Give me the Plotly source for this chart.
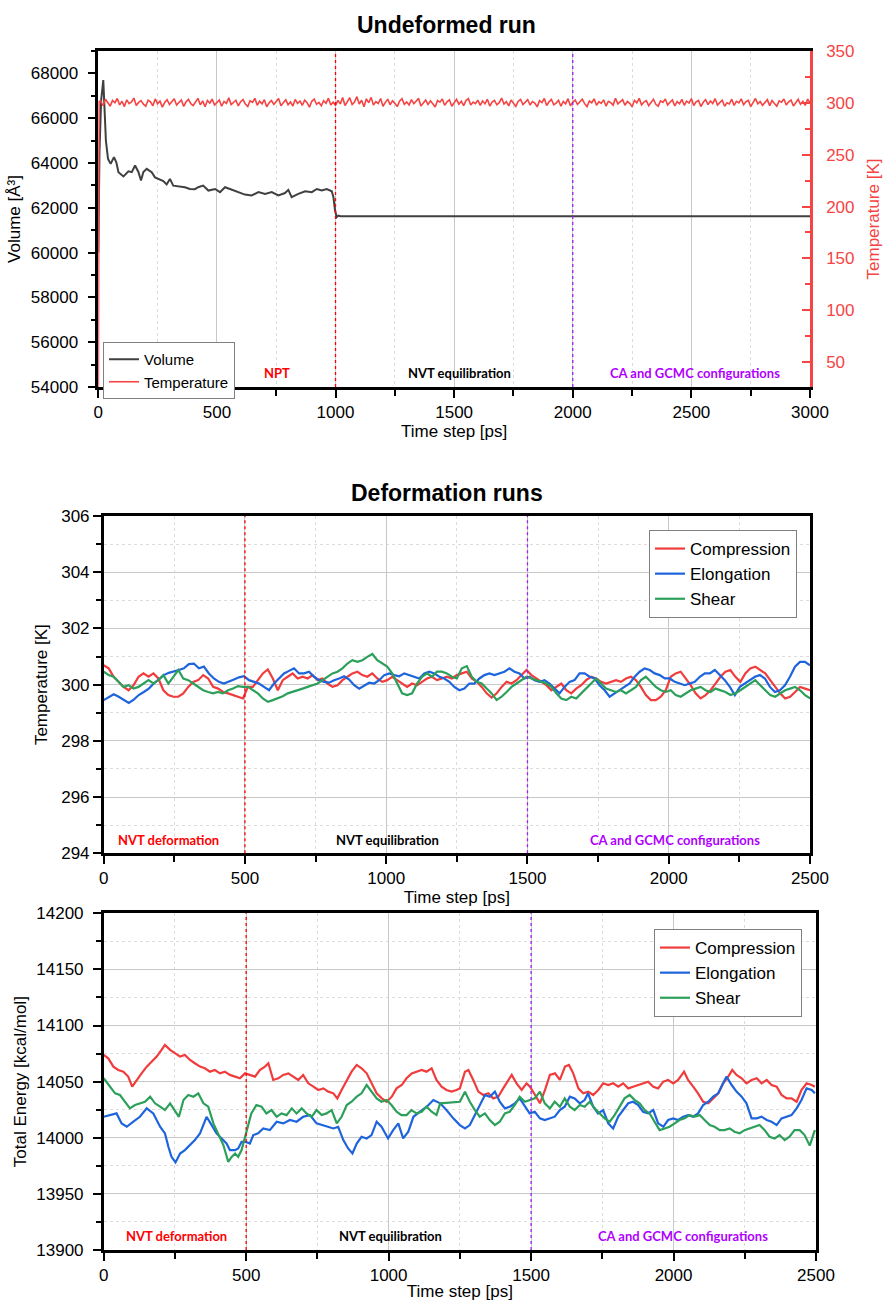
import numpy as np
import plotly.graph_objects as go

# ---------------- Undeformed run (0-3000 ps) ----------------
VOL_TIME = [0, 5, 12, 21, 28, 32, 41, 52, 66, 76, 85, 106, 127, 141, 155, 169, 180, 190, 204, 225,
            239, 253, 274, 288, 302, 316, 337, 365, 386, 407, 421, 442, 464, 492, 513, 534, 555, 590,
            618, 646, 675, 703, 731, 759, 787, 801, 815, 843, 872, 900, 921, 942, 963, 984, 991, 998,
            1005, 1012, 1020, 1500, 2000, 2500, 3000]
VOLUME = [60000, 64500, 66800, 67700, 66000, 65000, 64180, 63960, 64260, 64030, 63590, 63400, 63630,
          63590, 63890, 63600, 63220, 63600, 63740, 63590, 63360, 63290, 63190, 63040, 63290, 62990,
          62950, 62920, 62840, 62830, 62920, 62990, 62770, 62840, 62700, 62920, 62840, 62700, 62590,
          62550, 62700, 62620, 62700, 62550, 62660, 62800, 62480, 62620, 62740, 62700, 62840, 62770,
          62840, 62740, 62480, 61880, 61580, 61650, 61620, 61620, 61620, 61620, 61620]

TEMP_TIME = [0, 3] + list(range(10, 3001, 10))
TEMP_K = [0.0, 301.2,
          301.8, 297.2, 303.5, 299.6, 296.9, 302.4, 300.1, 304.2, 298.0, 301.5, 296.4, 302.9, 299.3, 300.8, 304.6, 297.5, 300.4, 302.1, 298.7, 296.8,
          302.6, 300.9, 297.1, 303.8, 299.0, 301.7, 295.9, 300.3, 303.1, 298.4, 301.2, 304.0, 297.8, 299.9, 302.7, 296.6, 301.0, 303.4, 299.2, 297.4,
          300.6, 304.3, 298.1, 301.9, 296.3, 302.2, 299.7, 303.6, 297.9, 300.2, 302.8, 296.7, 301.4, 299.5, 304.8, 298.3, 300.7, 302.5, 297.0, 301.1,
          303.2, 298.8, 296.5, 302.0, 300.5, 304.4, 297.6, 301.6, 299.1, 303.0, 296.2, 300.0, 302.3, 298.5, 301.3, 304.1, 297.3, 299.8, 302.9, 298.2,
          300.9, 296.9, 303.3, 299.4, 301.8, 297.7, 302.6, 300.2, 295.8, 301.5, 303.7, 298.6, 300.4, 297.2, 302.1, 299.6, 304.5, 298.0, 300.8, 297.5,
          302.4, 299.0, 305.2, 297.4, 301.6, 304.9, 298.3, 300.7, 306.0, 298.9, 302.5, 296.3, 303.9, 300.1, 305.3, 297.8, 301.2, 299.4, 304.2, 296.7,
          300.5, 303.6, 298.2, 302.0, 299.5, 296.4, 301.7, 304.0, 298.6, 300.9, 297.9, 303.1, 299.2, 301.4, 304.3, 297.0, 300.3, 302.7, 298.4, 301.9,
          299.1, 296.0, 302.3, 300.6, 303.8, 297.6, 301.0, 302.9, 296.8, 300.4, 303.4, 298.7, 301.5, 297.3, 302.2, 304.1, 298.0, 300.8, 299.3, 302.6,
          297.5, 301.9, 299.0, 303.5, 296.9, 300.7, 302.4, 298.1, 300.2, 304.6, 298.8, 301.3, 297.1, 302.8, 300.0, 296.6, 301.6, 303.2, 298.4, 300.9,
          303.0, 297.9, 301.2, 299.7, 296.1, 302.1, 300.3, 304.2, 297.4, 301.0, 303.3, 298.2, 299.8, 302.5, 296.7, 301.4, 299.0, 304.0, 297.2, 300.6,
          302.7, 298.5, 300.9, 303.6, 299.2, 296.4, 301.8, 300.1, 303.9, 297.6, 301.1, 299.4, 302.9, 296.9, 301.5, 300.2, 297.8, 304.4, 299.0, 300.7,
          303.1, 297.7, 301.3, 299.5, 296.2, 302.4, 300.0, 304.3, 298.1, 300.8, 302.2, 297.3, 301.0, 303.5, 298.6, 296.8, 301.9, 300.4, 303.7, 297.9,
          300.6, 302.8, 297.0, 301.2, 299.1, 303.4, 297.7, 301.6, 299.8, 304.1, 297.4, 300.9, 302.3, 296.5, 300.5, 303.0, 298.3, 301.8, 299.3, 304.0,
          297.8, 300.7, 302.6, 296.7, 300.1, 298.9, 303.5, 297.5, 301.4, 300.0, 303.8, 298.2, 301.1, 302.4, 296.4, 300.3, 304.2, 299.0, 301.3, 297.6,
          300.8, 303.1, 297.3, 302.2, 299.4, 296.8, 301.9, 300.6, 303.7, 297.9, 301.0, 302.7, 296.9, 300.4, 303.4, 298.7, 301.5, 297.5, 303.6, 300.2]

# ---------------- Deformation runs: temperature (0-2500 ps, evenly sampled) ----------------
DEF_T_COMPRESSION = [
    300.69, 300.58, 300.28, 300.10, 299.92, 299.80, 299.98, 300.28, 300.40, 300.28,
    300.40, 300.22, 299.80, 299.63, 299.57, 299.57, 299.69, 299.92, 300.10, 300.16,
    300.34, 300.22, 299.92, 299.86, 299.74, 299.69, 299.63, 299.57, 299.51, 299.92,
    299.92, 300.16, 300.40, 300.54, 300.22, 299.80, 300.16, 300.28, 300.40, 300.22,
    300.28, 300.22, 300.34, 300.16, 300.22, 300.04, 299.92, 299.98, 300.16, 300.28,
    300.40, 300.46, 300.34, 300.28, 300.40, 300.22, 300.10, 300.16, 300.28, 300.16,
    300.04, 299.92, 300.04, 299.98, 300.10, 300.22, 300.28, 300.16, 300.22, 300.28,
    300.22, 300.34, 300.40,
    300.46, 300.22, 300.10, 299.92, 299.69, 299.54, 299.69, 299.92, 300.10, 300.04,
    300.16, 300.34, 300.52, 300.34, 300.22, 300.10, 299.98, 299.80, 299.92, 300.04,
    299.80, 299.69, 299.86, 299.98, 300.16, 300.28, 300.22, 300.10, 300.04, 300.10,
    300.16, 300.10, 300.22, 300.28, 300.16, 299.92, 299.63, 299.45, 299.45, 299.57,
    299.80, 300.28, 300.40, 300.46, 300.22, 299.98, 299.69, 299.51, 299.63, 299.80,
    300.04, 300.28, 300.46, 300.52, 300.28, 300.10, 300.40, 300.58, 300.64, 300.52,
    300.40, 300.16, 299.92, 299.69, 299.51, 299.57, 299.74, 299.92, 299.86, 299.80]
DEF_T_ELONGATION = [
    299.45, 299.57, 299.66, 299.57, 299.45, 299.35, 299.47, 299.63, 299.74, 299.86,
    300.04, 300.18, 300.34, 300.42, 300.46, 300.52, 300.58, 300.73, 300.75, 300.58,
    300.64, 300.40, 300.22, 300.10, 300.04, 300.10, 300.18, 300.26, 300.30, 300.16,
    300.10, 300.04, 299.92, 299.80, 300.04, 300.22, 300.40, 300.49, 300.58, 300.40,
    300.40, 300.46, 300.28, 300.16, 300.10, 300.07, 300.16, 300.22, 300.30, 300.18,
    299.98, 299.86, 299.98, 300.07, 300.04, 300.16, 300.34, 300.40, 300.34, 300.30,
    300.40, 300.34, 300.30, 300.22, 300.40, 300.46, 300.40, 300.28, 300.22, 300.10,
    299.92, 299.80,
    299.86, 300.04, 300.04, 300.22, 300.34, 300.40, 300.34, 300.40, 300.46, 300.58,
    300.46, 300.40, 300.22, 300.28, 300.16, 300.10, 300.16, 300.04, 299.86, 299.69,
    299.92, 300.10, 300.16, 300.40, 300.40, 300.28, 300.22, 299.98, 299.80, 299.57,
    299.69, 299.80, 299.92, 300.04, 300.28, 300.46, 300.58, 300.52, 300.40, 300.34,
    300.22, 300.22, 300.10, 300.04, 299.98, 300.04, 300.10, 300.28, 300.40, 300.40,
    300.52, 300.34, 300.16, 299.92, 299.63, 299.92, 300.04, 300.16, 300.28, 300.34,
    300.22, 299.92, 299.74, 299.80, 299.98, 300.28, 300.64, 300.81, 300.81, 300.69]
DEF_T_SHEAR = [
    300.46, 300.34, 300.28, 300.10, 299.92, 299.98, 299.86, 299.92, 300.04, 300.16,
    300.04, 300.16, 300.34, 300.04, 300.28, 300.52, 300.22, 300.16, 300.04, 299.92,
    299.80, 299.74, 299.69, 299.74, 299.69, 299.80, 299.86, 299.95, 299.92, 299.92,
    299.80, 299.69, 299.51, 299.39, 299.45, 299.51, 299.59, 299.69, 299.74, 299.80,
    299.86, 299.92, 299.98, 300.04, 300.16, 300.28, 300.40, 300.46, 300.58, 300.75,
    300.87, 300.81, 300.87, 300.99, 301.09, 300.87, 300.75, 300.64, 300.40, 300.04,
    299.69, 299.63, 299.69, 300.04, 300.28, 300.40, 300.28, 300.46, 300.46, 300.40,
    300.28, 300.22,
    300.58, 300.66, 300.28, 300.10, 300.04, 299.86, 299.69, 299.45, 299.57, 299.74,
    299.92, 300.04, 300.16, 300.28, 300.22, 300.16, 300.10, 300.04, 299.92, 299.69,
    299.51, 299.45, 299.57, 299.51, 299.69, 299.86, 300.04, 300.22, 300.04, 299.86,
    299.80, 299.74, 299.80, 299.69, 299.80, 299.92, 300.16, 300.28, 300.10, 299.92,
    299.80, 299.74, 299.80, 299.63, 299.57, 299.69, 299.80, 299.86, 299.92, 299.80,
    299.74, 299.86, 299.80, 299.74, 299.63, 299.69, 299.80, 299.92, 300.04, 300.16,
    299.98, 299.80, 299.63, 299.57, 299.69, 299.80, 299.86, 299.92, 299.80, 299.63, 299.51]

# ---------------- Deformation runs: total energy ----------------
E_COMP_TIME = [0, 16, 34, 51, 69, 86, 100, 116, 133, 151, 168, 186, 203, 215, 233, 250, 268, 285, 303, 320,
               338, 355, 373, 390, 408, 425, 443, 461, 478, 496, 513, 531, 548, 566, 578, 595, 613, 630, 648, 665,
               683, 700, 718, 736, 753, 771, 788, 806, 820, 835, 853, 870, 888, 905, 923, 940, 958, 976, 993, 1011,
               1028, 1046, 1063, 1081, 1098, 1116, 1133, 1151, 1168, 1186, 1203, 1221, 1238,
               1250, 1268, 1280, 1297, 1315, 1332, 1350, 1367, 1385, 1402, 1420, 1432, 1449, 1467, 1484, 1496,
               1514, 1531, 1549, 1566, 1584, 1601, 1619, 1633, 1648, 1666, 1683, 1701, 1718, 1736, 1753, 1771,
               1788, 1806, 1823, 1841, 1858, 1876, 1893, 1911, 1929, 1946, 1964, 1981, 1999, 2016, 2037, 2051,
               2069, 2086, 2104, 2122, 2139, 2157, 2174, 2192, 2206, 2221, 2239, 2256, 2274, 2292, 2309, 2327,
               2344, 2362, 2379, 2397, 2414, 2432, 2449, 2467, 2485, 2496]
E_COMPRESSION = [
    14073.8, 14070.8, 14063.4, 14060.4, 14058.9, 14054.5, 14045.5, 14051.5, 14057.4, 14063.4,
    14067.9, 14072.3, 14078.3, 14082.7, 14078.3, 14075.3, 14072.3, 14073.8, 14069.3, 14066.4,
    14063.4, 14061.9, 14058.9, 14060.4, 14057.4, 14058.9, 14056.0, 14054.5, 14053.0, 14057.4,
    14056.0, 14054.5, 14060.4, 14063.4, 14066.4, 14051.5, 14053.0, 14056.0, 14057.4, 14054.5,
    14051.5, 14056.0, 14048.5, 14045.5, 14042.6, 14044.0, 14041.1, 14039.6, 14035.1, 14042.6,
    14051.5, 14058.9, 14064.9, 14061.9, 14057.4, 14048.5, 14039.6, 14035.1, 14032.1, 14036.6,
    14044.0, 14047.0, 14053.0, 14057.4, 14058.9, 14060.4, 14058.9, 14061.9, 14051.5, 14045.5,
    14042.6, 14041.1, 14042.6,
    14044.0, 14058.9, 14060.4, 14051.5, 14041.1, 14038.1, 14039.6, 14035.1, 14036.6, 14044.0,
    14051.5, 14056.0, 14048.5, 14042.6, 14048.5, 14045.5, 14038.1, 14030.7, 14042.6, 14056.0,
    14057.4, 14051.5, 14063.4, 14064.9, 14057.4, 14044.0, 14039.6, 14041.1, 14038.1, 14042.6,
    14048.5, 14047.0, 14048.5, 14045.5, 14048.5, 14044.0, 14045.5, 14047.0, 14048.5, 14050.0,
    14045.5, 14044.0, 14050.0, 14051.5, 14048.5, 14051.5, 14058.9, 14051.5, 14045.5, 14039.6,
    14032.1, 14030.7, 14035.1, 14039.6, 14048.5, 14054.5, 14060.4, 14056.0, 14053.0, 14048.5,
    14051.5, 14053.0, 14048.5, 14051.5, 14047.0, 14045.5, 14038.1, 14035.1, 14035.1, 14032.1,
    14042.6, 14048.5, 14047.0, 14045.5]

E_ELONG_TIME = [0, 22, 45, 63, 81, 104, 127, 151, 174, 198, 215, 227, 238, 252, 268, 285, 303, 320, 338, 361,
                379, 396, 414, 431, 443, 461, 472, 484, 498, 513, 525, 542, 560, 583, 607, 630, 654, 677, 700,
                724, 747, 765, 788, 806, 823, 841, 858, 873, 888, 905, 923, 940, 958, 975, 998, 1016, 1034,
                1051, 1069, 1087, 1110, 1134, 1157, 1181, 1203, 1227,
                1250, 1268, 1285, 1303, 1320, 1338, 1355, 1373, 1390, 1408, 1425, 1443, 1460, 1478, 1495, 1513,
                1531, 1548, 1566, 1583, 1601, 1618, 1636, 1653, 1671, 1688, 1700, 1718, 1735, 1753, 1771, 1788,
                1806, 1823, 1841, 1858, 1876, 1893, 1911, 1929, 1946, 1964, 1981, 1999, 2016, 2034, 2051, 2069,
                2086, 2104, 2122, 2139, 2157, 2174, 2186, 2204, 2221, 2239, 2256, 2274, 2292, 2309, 2327, 2344,
                2362, 2379, 2397, 2414, 2432, 2449, 2467, 2485, 2496]
E_ELONGATION = [
    14018.7, 14020.2, 14021.7, 14012.8, 14009.8, 14014.3, 14018.7, 14026.2, 14021.7, 14009.8,
    14003.9, 13992.0, 13983.0, 13978.0, 13986.0, 13989.0, 13993.5, 13997.9, 14003.9, 14018.7,
    14011.3, 14003.9, 13999.4, 13994.9, 13989.0, 13989.0, 13990.5, 13996.4, 13996.4, 13994.9,
    14002.4, 14003.9, 14008.3, 14006.8, 14014.3, 14012.8, 14015.8, 14014.3, 14018.7, 14020.2,
    14012.8, 14011.3, 14009.8, 14008.3, 14009.8, 13997.9, 13990.5, 13986.0, 13994.9, 14000.9,
    13999.4, 14002.4, 14014.3, 14009.8, 13999.4, 14006.8, 14012.8, 13999.4, 14005.4, 14018.7,
    14023.2, 14027.7, 14033.6, 14030.7, 14024.7, 14017.3,
    14011.3, 14008.3, 14011.3, 14020.2, 14029.2, 14038.1, 14036.6, 14041.1, 14032.1, 14026.2,
    14027.7, 14030.7, 14035.1, 14027.7, 14021.7, 14023.2, 14017.3, 14015.8, 14017.3, 14018.8,
    14024.7, 14027.7, 14036.6, 14035.1, 14030.7, 14033.6, 14039.6, 14027.7, 14021.7, 14024.7,
    14012.8, 14008.3, 14018.8, 14024.7, 14030.7, 14032.1, 14029.2, 14023.2, 14021.7, 14024.7,
    14012.8, 14009.8, 14015.8, 14017.3, 14015.8, 14018.8, 14020.2, 14018.8, 14021.7, 14029.2,
    14032.1, 14036.6, 14039.6, 14048.5, 14054.5, 14047.0, 14041.1, 14036.6, 14030.7, 14017.3,
    14017.3, 14018.8, 14015.8, 14014.3, 14011.3, 14017.3, 14018.8, 14020.2, 14026.2, 14033.6,
    14044.0, 14042.6, 14039.6]

E_SHEAR_TIME = [0, 22, 40, 57, 75, 92, 110, 127, 145, 163, 180, 198, 215, 233, 250, 264, 280, 297, 315, 332,
                350, 367, 385, 402, 420, 437, 449, 461, 472, 484, 498, 506, 518, 536, 554, 571, 589, 607, 624,
                642, 660, 677, 695, 712, 730, 747, 765, 782, 800, 818, 835, 853, 870, 888, 905, 923, 940, 958,
                975, 993, 1010, 1028, 1045, 1063, 1080, 1098, 1116, 1133, 1151, 1168, 1181,
                1250, 1268, 1285, 1303, 1320, 1338, 1355, 1373, 1390, 1408, 1425, 1443, 1460, 1478, 1495, 1513,
                1531, 1548, 1566, 1583, 1601, 1618, 1636, 1653, 1671, 1688, 1706, 1723, 1741, 1758, 1776, 1793,
                1811, 1828, 1846, 1864, 1881, 1899, 1916, 1934, 1951, 1969, 1986, 2004, 2021, 2039, 2057, 2074,
                2092, 2109, 2127, 2144, 2162, 2179, 2197, 2214, 2232, 2249, 2267, 2285, 2302, 2320, 2337, 2355,
                2372, 2390, 2407, 2425, 2443, 2460, 2478, 2496]
E_SHEAR = [
    14053.0, 14045.5, 14039.6, 14038.1, 14032.1, 14026.2, 14029.2, 14030.7, 14032.1, 14036.6,
    14030.7, 14027.7, 14024.7, 14030.7, 14024.7, 14018.7, 14033.6, 14038.1, 14036.6, 14039.6,
    14030.7, 14027.7, 14012.8, 14003.9, 13993.5, 13978.6, 13983.0, 13986.0, 13983.0, 13989.0,
    14002.4, 14009.8, 14021.7, 14029.2, 14027.7, 14021.7, 14024.7, 14018.7, 14021.7, 14020.2,
    14026.2, 14021.7, 14026.2, 14021.7, 14018.7, 14024.7, 14020.2, 14021.7, 14024.7, 14012.8,
    14018.7, 14029.2, 14032.1, 14036.6, 14039.6, 14047.0, 14041.1, 14035.1, 14032.1, 14033.6,
    14029.2, 14023.2, 14020.2, 14020.2, 14024.7, 14021.7, 14023.2, 14027.7, 14023.2, 14020.2,
    14030.7,
    14032.1, 14041.1, 14032.1, 14024.7, 14018.8, 14021.7, 14015.8, 14011.3, 14014.3, 14021.7,
    14023.2, 14029.2, 14036.6, 14032.1, 14033.6, 14035.1, 14041.1, 14030.7, 14026.2, 14032.1,
    14027.7, 14035.1, 14027.7, 14024.7, 14029.2, 14027.7, 14032.1, 14026.2, 14021.7, 14017.3,
    14014.3, 14020.2, 14027.7, 14035.1, 14038.1, 14033.6, 14030.7, 14024.7, 14021.7, 14014.3,
    14006.8, 14008.3, 14009.8, 14012.8, 14015.8, 14017.3, 14020.2, 14018.8, 14020.2, 14015.8,
    14011.3, 14009.8, 14006.8, 14006.8, 14008.3, 14005.4, 14003.9, 14006.8, 14008.3, 14009.8,
    14011.3, 14006.8, 14000.9, 13999.4, 14002.4, 13997.9, 14000.9, 14006.8, 14006.8, 14002.4,
    13993.0, 14006.8]

# ---------------- styling ----------------
FONT = "Arial, Liberation Sans, sans-serif"
LABEL_FONT = "Lato, Open Sans, sans-serif"
RED = "#f03c3c"
BLUE = "#1e64dc"
GREEN = "#2ca05a"
GREY = "#404040"
TEMP_RED = "#f54444"
PHASE_RED = "#ff0000"
PHASE_PURPLE = "#a020f0"
TEXT_PURPLE = "#b000ff"
GRID = "#c8c8c8"
MINOR_GRID = "#dcdcdc"
MINOR_DASH = "3px,3px"

W, H = 883, 1301


def xdom(left, right):
    return [left / W, right / W]


def ydom(top, bottom):
    return [1 - bottom / H, 1 - top / H]


fig = go.Figure()

fig.add_trace(go.Scatter(x=VOL_TIME, y=VOLUME, name="Volume", mode="lines",
                         line=dict(color=GREY, width=2), xaxis="x", yaxis="y", legend="legend"))
fig.add_trace(go.Scatter(x=TEMP_TIME, y=TEMP_K, name="Temperature", mode="lines",
                         line=dict(color=TEMP_RED, width=1.6), xaxis="x", yaxis="y2", legend="legend"))

for name, vals, col in [("Compression", DEF_T_COMPRESSION, RED),
                        ("Elongation", DEF_T_ELONGATION, BLUE),
                        ("Shear", DEF_T_SHEAR, GREEN)]:
    fig.add_trace(go.Scatter(x=np.linspace(0, 2500, len(vals)), y=vals, name=name, mode="lines",
                             line=dict(color=col, width=2.2), xaxis="x3", yaxis="y3", legend="legend2"))

for name, t, vals, col in [("Compression", E_COMP_TIME, E_COMPRESSION, RED),
                           ("Elongation", E_ELONG_TIME, E_ELONGATION, BLUE),
                           ("Shear", E_SHEAR_TIME, E_SHEAR, GREEN)]:
    fig.add_trace(go.Scatter(x=t, y=vals, name=name, mode="lines",
                             line=dict(color=col, width=2.2), xaxis="x5", yaxis="y5", legend="legend3"))


def time_axis(domain, rng, anchor):
    return dict(domain=domain, range=rng, anchor=anchor, tick0=0, dtick=500, automargin=False,
                ticks="outside", ticklen=8, tickwidth=2, tickcolor="black",
                showline=True, linewidth=2.5, linecolor="black", mirror=True,
                showgrid=True, gridcolor=GRID, gridwidth=1, zeroline=False,
                tickfont=dict(family=FONT, size=17, color="black"),
                title=dict(text="Time step [ps]", font=dict(family=FONT, size=17, color="black"), standoff=4),
                minor=dict(dtick=250, ticks="outside", ticklen=6, tickwidth=1.5, tickcolor="black",
                           showgrid=True, gridcolor=MINOR_GRID, griddash=MINOR_DASH, gridwidth=1))


def top_ticks(rng, overlay, anchor):
    return dict(range=rng, overlaying=overlay, anchor=anchor, side="top", tick0=0, dtick=500,
                automargin=False, ticks="inside", ticklen=8, tickwidth=2, tickcolor="black",
                showticklabels=False, showline=False, showgrid=False, zeroline=False,
                minor=dict(dtick=250, ticks="inside", ticklen=6, tickwidth=1.5, tickcolor="black",
                           showgrid=False))


def value_axis(domain, rng, anchor, dtick, minor, title, grid, standoff, labeloff):
    return dict(domain=domain, range=rng, anchor=anchor, dtick=dtick, tick0=0, automargin=False,
                tickformat="d", ticks="outside", ticklen=8, tickwidth=2, tickcolor="black",
                showline=True, linewidth=2.5, linecolor="black", mirror=grid,
                showgrid=grid, gridcolor=GRID, gridwidth=1, zeroline=False,
                ticklabelstandoff=labeloff,
                tickfont=dict(family=FONT, size=17, color="black"),
                title=dict(text=title, font=dict(family=FONT, size=17, color="black"), standoff=standoff),
                minor=dict(dtick=minor, ticks="outside", ticklen=5, tickwidth=1.5, tickcolor="black",
                           showgrid=grid, gridcolor=MINOR_GRID, griddash=MINOR_DASH, gridwidth=1))


def right_ticks(rng, overlay, anchor, dtick, minor):
    return dict(range=rng, overlaying=overlay, anchor=anchor, side="right", dtick=dtick, tick0=0,
                automargin=False, ticks="inside", ticklen=8, tickwidth=2, tickcolor="black",
                showticklabels=False, showline=False, showgrid=False, zeroline=False,
                minor=dict(dtick=minor, ticks="inside", ticklen=5, tickwidth=1.5, tickcolor="black",
                           showgrid=False))


P1X, P1Y = xdom(98.3, 810), ydom(51, 387)
P2X, P2Y = xdom(103.7, 810), ydom(516, 853.3)
P3X, P3Y = xdom(103.7, 816), ydom(913.3, 1250)

legend_style = dict(xanchor="left", yanchor="top", bgcolor="white", bordercolor="#808080",
                    borderwidth=1, tracegroupgap=0, itemwidth=30)

layout = dict(
    template="none",
    width=W, height=H, autosize=False,
    margin=dict(l=0, r=0, t=0, b=0, autoexpand=False),
    paper_bgcolor="white", plot_bgcolor="white",
    font=dict(family=FONT, size=17, color="black"),
    xaxis=time_axis(P1X, [0, 3000], "y"),
    xaxis2=top_ticks([0, 3000], "x", "y"),
    yaxis=value_axis(P1Y, [54000, 69000], "x", 2000, 1000, "Volume [Å³]", False, 6, 6),
    yaxis2=dict(overlaying="y", anchor="x", side="right", range=[26, 350], tick0=0, dtick=50,
                automargin=False, ticks="inside", ticklen=8, tickwidth=2, tickcolor=TEMP_RED,
                showline=True, linewidth=2.5, linecolor=TEMP_RED, showgrid=False, zeroline=False,
                ticklabelstandoff=10,
                tickfont=dict(family=FONT, size=17, color=TEMP_RED),
                title=dict(text="Temperature [K]", font=dict(family=FONT, size=17, color=TEMP_RED), standoff=14),
                minor=dict(dtick=25, ticks="inside", ticklen=5, tickwidth=1.5, tickcolor=TEMP_RED)),
    xaxis3=time_axis(P2X, [0, 2500], "y3"),
    xaxis4=top_ticks([0, 2500], "x3", "y3"),
    yaxis3=value_axis(P2Y, [294, 306], "x3", 2, 1, "Temperature [K]", True, 10, 0),
    yaxis4=right_ticks([294, 306], "y3", "x3", 2, 1),
    xaxis5=time_axis(P3X, [0, 2500], "y5"),
    xaxis6=top_ticks([0, 2500], "x5", "y5"),
    yaxis5=value_axis(P3Y, [13900, 14200], "x5", 50, 25, "Total Energy [kcal/mol]", True, 6, 6),
    yaxis6=right_ticks([13900, 14200], "y5", "x5", 50, 25),
    legend=dict(x=103 / W, y=1 - 342 / H, font=dict(family=FONT, size=15), **legend_style),
    legend2=dict(x=649 / W, y=1 - 530 / H, font=dict(family=FONT, size=17), **legend_style),
    legend3=dict(x=654 / W, y=1 - 929 / H, font=dict(family=FONT, size=17), **legend_style),
    showlegend=True,
)
fig.update_layout(**layout)

# phase boundaries
for xref, yref, xr, xp in [("x", "y domain", 1000, 2000), ("x3", "y3 domain", 500, 1500),
                           ("x5", "y5 domain", 500, 1500)]:
    fig.add_shape(type="line", xref=xref, yref=yref, x0=xr, x1=xr, y0=0, y1=1,
                  line=dict(color=PHASE_RED, width=1.3, dash="dot"), layer="above")
    fig.add_shape(type="line", xref=xref, yref=yref, x0=xp, x1=xp, y0=0, y1=1,
                  line=dict(color=PHASE_PURPLE, width=1.3, dash="dot"), layer="above")

# phase labels
PHASES = [
    ("x", "y domain", [(753, "NPT", PHASE_RED), (1524, "NVT equilibration", "black"),
                       (2516, "CA and GCMC configurations", TEXT_PURPLE)], 0.042),
    ("x3", "y3 domain", [(228, "NVT deformation", PHASE_RED), (1003, "NVT equilibration", "black"),
                         (2023, "CA and GCMC configurations", TEXT_PURPLE)], 0.039),
    ("x5", "y5 domain", [(254, "NVT deformation", PHASE_RED), (1005, "NVT equilibration", "black"),
                         (2033, "CA and GCMC configurations", TEXT_PURPLE)], 0.042),
]
for xref, yref, items, yy in PHASES:
    for xv, txt, col in items:
        fig.add_annotation(x=xv, y=yy, xref=xref, yref=yref, text=txt, showarrow=False,
                           xanchor="center", yanchor="middle",
                           font=dict(family=LABEL_FONT, size=13, color=col, weight="bold"))

# panel titles
for txt, ypix in [("Undeformed run", 25), ("Deformation runs", 493)]:
    fig.add_annotation(x=447 / W, y=1 - ypix / H, xref="paper", yref="paper", text=txt,
                       showarrow=False, xanchor="center", yanchor="middle",
                       font=dict(family=FONT, size=23, color="black", weight="bold"))

fig.write_html("out.html")
